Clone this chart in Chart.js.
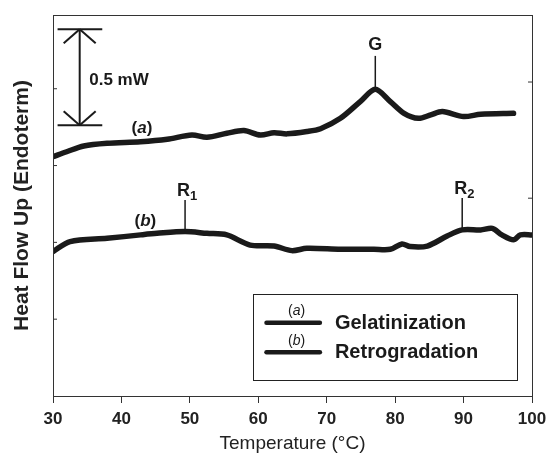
<!DOCTYPE html>
<html>
<head>
<meta charset="utf-8">
<title>DSC thermograms</title>
<script src="https://cdn.jsdelivr.net/npm/chart.js@4.4.0/dist/chart.umd.min.js"></script>
<style>
  html, body { margin: 0; padding: 0; background: #fff; }
</style>
</head>
<body>
<canvas id="dscChart" width="549" height="455"></canvas>
<script>
// Values (temperature in °C, heat flow in mW on an offset baseline)
const gelTemp = [30, 32, 34.5, 37.9, 42.8, 46.7, 50.3, 52.5, 55.4, 57.9, 60.3, 62.3, 64.2, 67.1, 69.1, 72, 74.9, 77.1, 79.3, 81.3, 83.4, 85.2, 86.9, 90, 92.5, 97.3];
const gelFlow = [1.246, 1.272, 1.302, 1.316, 1.324, 1.337, 1.359, 1.347, 1.368, 1.382, 1.359, 1.371, 1.365, 1.377, 1.392, 1.446, 1.533, 1.597, 1.533, 1.472, 1.446, 1.464, 1.481, 1.455, 1.467, 1.472];

const retroTemp = [30, 32.5, 37.9, 42.8, 45.2, 49.3, 52.5, 55.4, 58.8, 62.3, 64.9, 67.1, 72, 76.9, 79.3, 81, 82.2, 84.7, 87.6, 89.8, 92.5, 94.2, 95.6, 97.3, 98.3, 100];
const retroFlow = [0.752, 0.804, 0.821, 0.839, 0.847, 0.856, 0.847, 0.839, 0.786, 0.781, 0.757, 0.769, 0.764, 0.764, 0.764, 0.792, 0.778, 0.781, 0.833, 0.865, 0.865, 0.873, 0.839, 0.813, 0.839, 0.839];

const xTicks = [30, 40, 50, 60, 70, 80, 90, 100];
const leftTicks = [0.4, 0.8, 1.2, 1.6];
const rightTicks = [1.03, 1.635];

const FAMILY = '"Liberation Sans", Arial, Helvetica, sans-serif';
const INK = "#1a1a1a";

function fnt(size, bold, italic) {
  return `${italic ? "italic " : ""}${bold ? "bold " : ""}${size}px ${FAMILY}`;
}

// draw a run of text pieces ([text, font, dy]) centred on x, or starting at x
function drawRuns(ctx, runs, x, y, align) {
  let w = 0;
  runs.forEach((r) => { ctx.font = r[1]; w += ctx.measureText(r[0]).width; });
  let cx = align === "left" ? x : x - w / 2;
  ctx.textAlign = "left";
  ctx.textBaseline = "middle";
  runs.forEach((r) => {
    ctx.font = r[1];
    ctx.fillText(r[0], cx, y + (r[2] || 0));
    cx += ctx.measureText(r[0]).width;
  });
}

function seg(ctx, x1, y1, x2, y2) {
  ctx.beginPath();
  ctx.moveTo(x1, y1);
  ctx.lineTo(x2, y2);
  ctx.stroke();
}

// frame, inward ticks, scale bar, peak markers, curve labels and the boxed legend
const decorations = {
  id: "decorations",
  afterDatasetsDraw(chart) {
    const { ctx, chartArea: a, scales: { x, y } } = chart;
    const px = (v) => x.getPixelForValue(v);
    const py = (v) => y.getPixelForValue(v);
    ctx.save();
    ctx.strokeStyle = "#333";
    ctx.lineWidth = 1;
    ctx.strokeRect(Math.round(a.left) + 0.5, Math.round(a.top) + 0.5, Math.round(a.right - a.left), Math.round(a.bottom - a.top));
    leftTicks.forEach((v) => seg(ctx, a.left, py(v), a.left + 4, py(v)));
    rightTicks.forEach((v) => seg(ctx, a.right - 4, py(v), a.right, py(v)));

    // 0.5 mW scale bar
    ctx.strokeStyle = INK;
    ctx.lineWidth = 2;
    const bx = px(33.9), bTop = py(1.91), bBot = py(1.41);
    seg(ctx, bx, bTop, bx, bBot);
    seg(ctx, px(30.67), bTop, px(37.2), bTop);
    seg(ctx, px(30.67), bBot, px(37.2), bBot);
    seg(ctx, bx - 16, bTop + 14, bx, bTop);
    seg(ctx, bx + 16, bTop + 14, bx, bTop);
    seg(ctx, bx - 16, bBot - 14, bx, bBot);
    seg(ctx, bx + 16, bBot - 14, bx, bBot);
    ctx.fillStyle = INK;
    drawRuns(ctx, [["0.5 mW", fnt(17, true)]], px(35.3), py(1.646), "left");

    // peak markers
    ctx.lineWidth = 1.5;
    seg(ctx, px(77.1), py(1.60), px(77.1), py(1.771));
    drawRuns(ctx, [["G", fnt(18, true)]], px(77.1), py(1.83));
    seg(ctx, px(49.3), py(0.856), px(49.3), py(1.021));
    drawRuns(ctx, [["R", fnt(18, true)], ["1", fnt(13, true), 5]], px(49.6), py(1.066));
    seg(ctx, px(89.8), py(0.865), px(89.8), py(1.031));
    drawRuns(ctx, [["R", fnt(18, true)], ["2", fnt(13, true), 5]], px(90.1), py(1.076));

    // curve labels
    drawRuns(ctx, [["(", fnt(17, true)], ["a", fnt(17, true, true)], [")", fnt(17, true)]], px(43.0), py(1.394));
    drawRuns(ctx, [["(", fnt(17, true)], ["b", fnt(17, true, true)], [")", fnt(17, true)]], px(43.5), py(0.908));

    // legend box
    ctx.lineWidth = 1;
    ctx.strokeStyle = "#222";
    const lx = Math.round(px(59.2)) + 0.5, ly = Math.round(py(0.53)) + 0.5;
    ctx.strokeRect(lx, ly, Math.round(px(97.8) - px(59.2)), Math.round(py(0.083) - py(0.53)));
    ctx.lineWidth = 4.5;
    ctx.lineCap = "round";
    ctx.strokeStyle = INK;
    seg(ctx, px(61.2), py(0.382), px(69.0), py(0.382));
    seg(ctx, px(61.2), py(0.228), px(69.0), py(0.228));
    drawRuns(ctx, [["(", fnt(14)], ["a", fnt(14, false, true)], [")", fnt(14)]], px(65.6), py(0.44));
    drawRuns(ctx, [["(", fnt(14)], ["b", fnt(14, false, true)], [")", fnt(14)]], px(65.6), py(0.287));
    drawRuns(ctx, [["Gelatinization", fnt(20, true)]], px(71.2), py(0.38), "left");
    drawRuns(ctx, [["Retrogradation", fnt(20, true)]], px(71.2), py(0.224), "left");
    ctx.restore();
  }
};

const toPoints = (xs, ys) => xs.map((t, i) => ({ x: t, y: ys[i] }));

new Chart(document.getElementById("dscChart"), {
  type: "line",
  data: {
    datasets: [
      { label: "Gelatinization", data: toPoints(gelTemp, gelFlow) },
      { label: "Retrogradation", data: toPoints(retroTemp, retroFlow) }
    ]
  },
  options: {
    responsive: false,
    animation: false,
    layout: { padding: { top: 15, right: 17, left: 0, bottom: 0 } },
    elements: {
      line: { borderColor: INK, borderWidth: 5.5, tension: 0.3, borderCapStyle: "round", borderJoinStyle: "round" },
      point: { radius: 0, hitRadius: 0 }
    },
    plugins: { legend: { display: false }, tooltip: { enabled: false } },
    scales: {
      x: {
        type: "linear",
        min: 30,
        max: 100,
        afterBuildTicks: (s) => { s.ticks = xTicks.map((v) => ({ value: v })); },
        afterFit: (s) => { s.height = 59; s.paddingLeft = 0; s.paddingRight = 0; },
        grid: { drawOnChartArea: false, color: "#333", tickLength: 7, tickWidth: 1 },
        border: { display: true, color: "#333", width: 1 },
        ticks: { color: "#222", padding: 6, font: { family: FAMILY, size: 17, weight: "bold" } },
        title: { display: true, text: "Temperature (°C)", color: "#222", padding: { top: 0, bottom: 0 }, font: { family: FAMILY, size: 19 } }
      },
      y: {
        min: 0,
        max: 1.984,
        afterFit: (s) => { s.width = 53; },
        grid: { display: false },
        border: { display: true, color: "#333", width: 1 },
        ticks: { display: false },
        title: { display: true, text: "Heat Flow Up (Endoterm)", color: "#222", padding: { top: 10, bottom: 0 }, font: { family: FAMILY, size: 21, weight: "bold" } }
      }
    }
  },
  plugins: [decorations]
});
</script>
</body>
</html>
